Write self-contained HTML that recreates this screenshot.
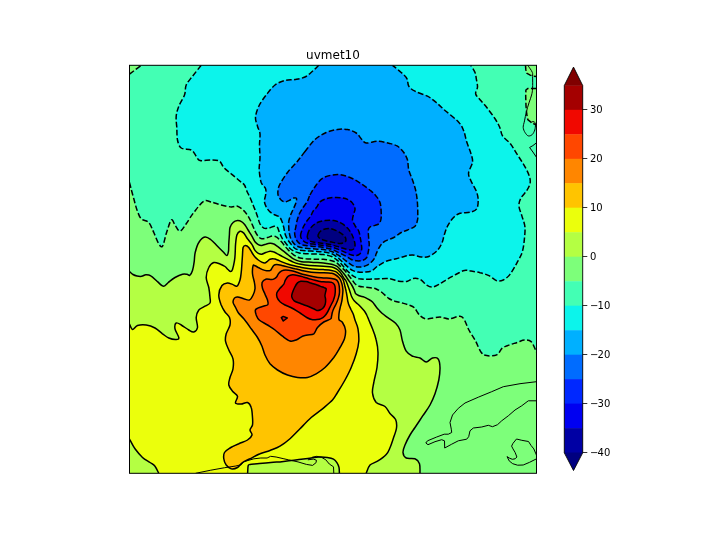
<!DOCTYPE html>
<html lang="en"><head><meta charset="utf-8"><title>uvmet10</title>
<style>html,body{margin:0;padding:0;background:#fff;}svg{display:block}text{font-family:"DejaVu Sans","Liberation Sans",sans-serif;fill:#000}</style></head><body>
<svg width="720" height="540" viewBox="0 0 720 540">
<rect width="720" height="540" fill="#fff"/>
<defs><clipPath id="ax"><rect x="129.5" y="65.3" width="407" height="408"/></clipPath></defs>
<g clip-path="url(#ax)">
<rect x="129.5" y="65.3" width="407" height="408" fill="#7dff7a"/>
<path d="M129.5 182.5C129.8 183.5 130.3 185.8 131 188.5C131.7 191.2 132.8 195.2 133.8 198.8C134.8 202.3 135.8 206.7 137 210C138.2 213.3 139.3 216.7 141.2 218.8C143.2 220.8 146.7 220.2 148.8 222.5C150.8 224.8 152.1 229 153.8 232.5C155.4 236 157.3 241.5 158.8 243.8C160.2 246 161.2 247.9 162.5 246.2C163.8 244.6 164.8 238.1 166.2 233.8C167.7 229.4 169.8 221.5 171.2 220C172.7 218.5 173.5 223.1 175 225C176.5 226.9 178.1 231.5 180 231.2C181.9 231 184 226.9 186.2 223.8C188.5 220.6 190.8 216.2 193.8 212.5C196.7 208.8 200.8 203 203.8 201.2C206.7 199.5 208.3 201.4 211.2 202C214.2 202.6 217.9 204.2 221.2 205C224.6 205.8 228.5 206.7 231.2 206.9C234 207.1 235.4 205.6 237.5 206.2C239.6 206.9 242 208.9 243.8 210.6C245.5 212.3 246.7 214.1 248.1 216.2C249.5 218.4 250.8 221.2 251.9 223.8C253.1 226.2 254 229.2 255 231.2C256 233.3 257 235 258.1 236.2C259.2 237.5 260.3 238.5 261.9 238.8C263.5 239 265.7 238 267.5 237.5C269.3 237 271 236.1 272.5 236C274 235.9 275.2 236.4 276.2 236.9C277.3 237.4 277.8 238.1 278.8 239C279.7 239.9 280.7 241 281.7 242.1C282.7 243.2 283.6 244.6 284.6 245.8C285.6 247.1 286.7 248.3 287.9 249.6C289.1 250.8 290.4 252.2 291.7 253.3C293 254.4 294.4 255.5 295.8 256.2C297.2 257 298.3 257.5 300 257.9C301.7 258.3 303.3 258.5 305.8 258.8C308.3 259 312.1 259.1 315 259.2C317.9 259.3 320.5 259 323.3 259.3C326.1 259.6 329.5 260.2 331.7 260.8C333.9 261.4 335.2 261.9 336.7 262.9C338.2 263.9 339.4 265.4 340.8 266.7C342.2 268 343.8 269.4 345 270.8C346.2 272.2 347.2 273.6 348.3 275C349.4 276.4 350.6 277.7 351.7 279.2C352.8 280.7 353.8 282.6 355 283.8C356.2 284.9 357.5 285.7 359.2 286.2C360.9 286.8 362.9 286.8 365 287.1C367.1 287.4 369.8 287.6 371.7 287.9C373.6 288.2 374.5 288.2 376.2 289C378 289.8 379.9 290.9 382 292.5C384.1 294.1 386.7 297.1 388.9 298.5C391.1 299.9 392.8 300.4 395 301.2C397.2 301.9 399.9 302.4 402.2 303C404.5 303.6 406.9 304.2 408.9 305C410.9 305.8 412.5 306 414.4 307.8C416.2 309.6 417.9 313.8 420 315.6C422.1 317.5 423.4 318.6 426.7 318.9C430 319.1 436.3 317.1 440 317.1C443.7 317.1 445.6 319 448.9 318.9C452.2 318.8 457.4 316 460 316.2C462.6 316.4 462.9 317.7 464.4 320C465.9 322.3 467 326.5 468.9 330C470.8 333.5 473.6 337.4 475.6 341.1C477.6 344.8 479.2 349.8 481.1 352.2C483 354.6 484.1 355.2 486.7 355.6C489.3 356.1 494.1 356.1 496.7 354.9C499.3 353.7 500.2 349.8 502.2 348.2C504.2 346.6 506.3 346.1 508.9 345.1C511.5 344.1 515.2 343.1 517.8 342.2C520.4 341.3 522.2 340.1 524.4 340C526.6 339.9 529.2 339.9 531.1 341.6C533 343.3 534.7 348.3 535.6 350C536.5 351.7 536.4 351.7 536.5 352L536.5 65.3L129.5 65.3Z" fill="#43ffb4" stroke="#43ffb4" stroke-width="0.4"/>
<path d="M129.5 74.2C130.4 73.5 133 71.5 135 70C137 68.5 140.3 66.1 141.4 65.3L129.5 65.3Z" fill="#7dff7a" stroke="#7dff7a" stroke-width="0.4"/>
<path d="M525.5 65.3 L525.8 69.4 L526.6 73.2 L530.2 75.1 L532.7 76.2 L536.5 76.4L536.5 65.3Z" fill="#7dff7a" stroke="#7dff7a" stroke-width="0.4"/>
<path d="M536.5 88.4 L528 88.4 L525.9 90 L525.7 96 L526 105.8 L526.7 114 L527.8 119.7 L532 123 L536.5 125Z" fill="#7dff7a" stroke="#7dff7a" stroke-width="0.4"/>
<path d="M201.2 65.3C199.8 67.1 195 73 192.5 76.2C190 79.5 187.6 81.9 186.2 85C184.9 88.1 185.8 91.5 184.5 95C183.2 98.5 180.1 102.7 178.8 106.2C177.4 109.8 176.6 112.7 176.2 116.2C175.9 119.8 176.5 123.5 176.8 127.5C177 131.5 176.8 136.6 177.5 140C178.2 143.4 179 146.3 181.2 148C183.5 149.7 188.8 148.6 191.2 150C193.8 151.4 194.8 154.5 196.2 156.2C197.7 158 197.5 159.9 200 160.5C202.5 161.1 208 159.9 211.2 160C214.5 160.1 217.4 160 219.5 161.2C221.6 162.5 221.8 165.4 223.8 167.5C225.7 169.6 228.5 171.5 231.2 173.8C234 176 237.8 179.4 240 181.2C242.2 183.1 243.2 183.3 244.4 185C245.6 186.7 246 189.2 246.9 191.2C247.8 193.3 249 195.2 250 197.5C251 199.8 252.2 202.7 253.1 205C254 207.3 254.8 209.2 255.6 211.2C256.4 213.3 257 215.4 257.8 217.5C258.5 219.6 259 222 260 223.8C261 225.5 262.3 227.4 263.8 228.1C265.2 228.8 267 228.4 268.8 228.1C270.5 227.8 272.9 226.3 274.4 226.2C275.9 226.2 276.7 226.5 277.5 227.5C278.3 228.5 278.6 230.6 279.4 232.5C280.2 234.4 281.4 236.9 282.5 238.8C283.6 240.6 285 242.1 286.2 243.8C287.5 245.4 288.7 247.2 290 248.5C291.3 249.8 292.7 250.6 294.2 251.3C295.7 252 297.3 252.5 299.2 252.9C301.1 253.3 303.2 253.5 305.8 253.7C308.4 253.9 312.1 253.9 315 254C317.9 254.1 320.5 254.1 323.3 254.5C326.1 254.9 329.5 255.6 331.7 256.5C333.9 257.4 335 258.5 336.7 259.8C338.4 261.1 340.2 262.9 341.7 264.5C343.2 266.1 344.4 267.7 345.8 269.2C347.2 270.7 348.6 272.1 350 273.3C351.4 274.6 352.7 275.8 354.2 276.7C355.7 277.6 357.4 278.3 359.2 278.8C361 279.2 362.4 279.2 365 279.2C367.6 279.2 372.5 279.1 375 279C377.5 278.9 377.5 278.8 380 278.8C382.5 278.7 386.9 278.3 390 278.8C393.1 279.2 395.8 280.8 398.8 281.2C401.7 281.7 405.1 281.7 407.5 281.2C409.9 280.8 411.2 278.7 413.3 278.4C415.4 278.1 417.8 278.2 420 279.3C422.2 280.4 424.7 283.8 426.7 285.1C428.7 286.4 430.2 287.2 432.2 287.1C434.2 287 436.3 285.8 438.9 284.4C441.5 283 444.8 280.6 447.8 278.9C450.8 277.2 453.9 275.4 456.7 274C459.5 272.6 462 270.9 464.4 270.4C466.8 269.9 468.5 270.7 471.1 271.1C473.7 271.5 477 271.9 480 272.7C483 273.4 486.1 274.3 488.9 275.6C491.7 276.9 494.3 280 496.7 280.7C499.1 281.4 501.1 281.1 503.3 280C505.5 278.9 507.8 277.2 510 274.4C512.2 271.6 514.7 267 516.7 263.3C518.7 259.6 520.9 256.3 522.2 252.2C523.5 248.1 524 243.2 524.4 238.9C524.8 234.7 525.3 230.6 524.9 226.7C524.5 222.8 522.8 219.1 521.8 215.6C520.8 212.1 519 208.6 518.9 205.6C518.8 202.6 519.8 200.3 521.1 197.8C522.4 195.3 525.4 192.9 526.9 190.4C528.4 187.9 529.9 185.2 530.2 182.6C530.5 180 529.9 177.8 528.9 174.9C527.9 172 526 168.5 524 165.1C522 161.7 519.5 158 517.2 154.4C514.9 150.8 512.8 146.8 510.4 143.8C508 140.7 504.4 138.8 502.6 136C500.8 133.2 501 130.1 499.7 127.2C498.4 124.3 497 121.7 494.9 118.5C492.8 115.3 489.4 110.9 487 107.8C484.6 104.7 482.2 102.3 480.3 100C478.4 97.7 476.2 96.2 475.7 94C475.2 91.8 477.4 89.4 477.5 87C477.6 84.6 476.8 81.8 476.4 79.4C476 77 475.9 74.8 475 72.5C474.1 70.2 471.5 66.5 470.8 65.3Z" fill="#0cf4eb" stroke="#0cf4eb" stroke-width="0.4"/>
<path d="M318.8 65.3C317.7 66.3 314.8 69.3 312.5 71.2C310.2 73.2 307.9 75.6 305 77C302.1 78.4 298.3 78.9 295 79.5C291.7 80.1 288.3 79.6 285 80.5C281.7 81.4 278.1 82.6 275 85C271.9 87.4 269 91.5 266.2 95C263.5 98.5 260.5 102.5 258.8 106.2C257 110 255.7 114.2 255.5 117.5C255.3 120.8 256.8 123.5 257.5 126.2C258.2 129 259.7 130.6 260 133.8C260.3 136.9 259.5 141 259.5 145C259.5 149 260 153.3 260 157.5C260 161.7 259 165.8 259.2 170C259.5 174.2 260.2 179.4 261.2 182.5C262.3 185.6 264.9 186.7 265.6 188.8C266.3 190.8 265.8 192.9 265.6 195C265.4 197.1 264.3 199.3 264.4 201.2C264.5 203.2 265.3 205.1 266.2 206.9C267.2 208.7 268.5 210.6 270 211.9C271.5 213.2 273.4 214.2 275 215C276.6 215.8 278.2 215.9 279.4 216.9C280.5 217.9 281.2 219.5 281.9 221.2C282.6 223 283.2 225.4 283.8 227.5C284.3 229.6 284.4 231.8 285 233.8C285.6 235.7 286.5 237.6 287.5 239.4C288.5 241.2 290 242.9 291.2 244.4C292.5 245.9 293.7 247.6 295 248.5C296.3 249.4 297.4 249.6 299.2 250C301 250.4 303.2 250.6 305.8 250.8C308.4 251 312.1 251.1 315 251.3C317.9 251.5 320.5 251.6 323.3 252C326.1 252.4 329.3 252.9 331.7 253.8C334.1 254.7 335.7 256.1 337.5 257.5C339.3 258.9 340.8 260.5 342.5 262C344.2 263.5 345.8 265.3 347.5 266.7C349.2 268.1 350.7 269.5 352.5 270.4C354.3 271.3 356.2 271.8 358.3 272.1C360.4 272.4 362.8 272.3 365 272.1C367.2 271.9 369.6 271.8 371.7 270.8C373.8 269.8 375.1 267.8 377.5 266.2C379.9 264.7 383.1 262.5 386.2 261.2C389.4 260 393.1 259.6 396.2 258.8C399.4 257.9 402.3 256.9 405 256.2C407.7 255.6 409.8 254.9 412.5 255C415.2 255.1 418.5 256.8 421.2 257C424 257.2 426.2 257.5 428.8 256.5C431.3 255.5 434.5 253.3 436.7 251.1C438.9 248.9 440.5 246.1 441.8 243.3C443.1 240.5 443.4 237.4 444.4 234.4C445.4 231.4 446.3 228.4 447.8 225.6C449.3 222.8 451.3 219.9 453.3 217.8C455.3 215.8 457.2 214.2 460 213.3C462.8 212.4 467.2 212.9 470 212.2C472.8 211.5 475.3 210.9 476.7 208.9C478.1 206.9 478.2 202.9 478.2 200C478.1 197.1 477.6 194.6 476.4 191.4C475.2 188.2 472.2 183.8 470.9 180.7C469.6 177.6 468.3 176 468.6 172.9C468.9 169.8 472.1 165.4 472.5 162.2C472.9 159 471.9 156.9 470.9 153.5C469.9 150.1 467.9 145.5 466.7 141.8C465.5 138.1 465.1 134.3 463.8 131.1C462.4 127.9 462 125.8 458.9 122.4C455.8 119 449.1 114 445.3 110.7C441.5 107.4 439.2 104.9 436.2 102.5C433.3 100.1 431 98.1 427.5 96.2C424 94.4 418.1 92.9 415 91.2C411.9 89.6 410.1 88.3 408.8 86.2C407.4 84.2 408.2 81 407 78.8C405.8 76.5 403.7 74.7 401.2 72.5C398.8 70.3 394 66.5 392.5 65.3Z" fill="#00b0ff" stroke="#00b0ff" stroke-width="0.4"/>
<path d="M305 151.5C302.1 155.1 300.4 157.8 297.5 161.2C294.6 164.8 290.4 168.7 287.5 172.5C284.6 176.3 281.6 181.1 280 184C278.4 186.9 278.4 188.2 278.1 190C277.8 191.8 277.7 193.4 278.1 195C278.5 196.6 279.6 198.2 280.6 199.4C281.7 200.6 283 201.7 284.4 201.9C285.8 202.1 287.2 201.2 288.8 200.6C290.3 200 292.5 198.4 293.8 198.1C295 197.8 296.2 197.6 296.5 198.5C296.8 199.4 296.2 201.9 295.6 203.8C295 205.6 293.9 207.5 293.1 209.4C292.3 211.3 291.3 213 290.6 215C289.9 217 289.1 219.2 288.8 221.2C288.4 223.3 288.7 225.6 288.8 227.5C288.8 229.4 288.9 230.8 289.2 232.5C289.5 234.2 289.8 236 290.4 237.5C290.9 239 291.6 240.4 292.5 241.7C293.4 243 294.6 244.5 295.8 245.4C297.1 246.3 298.3 246.8 300 247.3C301.7 247.8 303.3 248 305.8 248.3C308.3 248.6 312.1 248.8 315 249C317.9 249.2 320.5 249.2 323.3 249.6C326.1 250 329.2 250.6 331.7 251.5C334.2 252.4 336.2 253.9 338.3 255.2C340.4 256.5 342.4 258.1 344.2 259.5C346 260.9 347.5 262.2 349.2 263.3C350.9 264.4 352.4 265.6 354.2 266.2C356 266.9 357.9 267.2 360 267.1C362.1 267 364.8 266.3 366.7 265.4C368.6 264.5 370.3 263 371.7 261.7C373.1 260.4 374.2 258.8 375 257.5C375.8 256.2 375.4 255.6 376.2 253.8C377.1 251.9 378.5 248.3 380 246.2C381.5 244.2 382.7 242.7 385 241.2C387.3 239.8 391 239 393.8 237.5C396.5 236 399 233.8 401.2 232.5C403.5 231.2 405.2 231 407.5 230C409.8 229 413.3 227.9 415 226.2C416.7 224.6 417 222 417.5 220C418 218 417.8 217.6 417.8 214.4C417.8 211.2 417.7 205.2 417.3 201.1C416.9 197 416.4 193.5 415.6 190C414.8 186.5 413.6 183.3 412.5 180C411.4 176.7 409.6 173.3 408.8 170C407.9 166.7 408.3 162.9 407.5 160C406.7 157.1 405.4 154.8 403.8 152.5C402.1 150.2 400 147.8 397.5 146.2C395 144.7 392.1 144.1 388.8 143.2C385.4 142.4 381.2 141.3 377.5 141.2C373.8 141.2 369 143.4 366.2 143C363.5 142.6 362.9 140.4 361.2 138.8C359.6 137.1 358.5 134.5 356.2 133C354 131.5 350.6 130.1 347.5 129.5C344.4 128.9 341 129 337.5 129.5C334 130 330 130.8 326.2 132.5C322.5 134.2 318.5 136.3 315 139.5C311.5 142.7 307.9 147.9 305 151.5Z" fill="#006cff" stroke="#006cff" stroke-width="0.4"/>
<path d="M310 195C311.5 192.3 314 187.9 316.2 185C318.5 182.1 320.2 179.2 323.8 177.5C327.3 175.8 333.1 174.5 337.5 174.5C341.9 174.5 346 176 350 177.5C354 179 357.7 181.5 361.2 183.8C364.8 186 368.8 189.2 371.2 191.2C373.7 193.3 374.5 194.1 376 196C377.5 197.9 379.1 199.8 380 202.5C380.9 205.2 381.1 209.8 381.2 212.5C381.4 215.2 381.3 217.2 381 219C380.7 220.8 380.3 222.2 379.3 223.3C378.3 224.4 376.5 224.8 375 225.4C373.5 226 371.6 226 370.5 226.7C369.4 227.4 368.7 227.9 368.4 229.5C368.1 231.1 368.4 234.1 368.5 236C368.6 237.9 368.8 239.5 368.9 241C369 242.5 369.3 243.2 369.2 245C369.1 246.8 368.7 249.6 368.3 251.7C367.9 253.8 367.7 256.1 366.7 257.5C365.7 258.9 364.2 259.8 362.5 260.4C360.8 260.9 358.6 261 356.7 260.8C354.8 260.6 352.6 260 350.8 259.2C349 258.4 347.7 257.3 345.8 256.2C343.9 255.1 341.6 254 339.2 252.8C336.8 251.7 334.3 250.2 331.7 249.3C329.1 248.4 326.1 247.9 323.3 247.4C320.5 246.9 317.9 246.8 315 246.5C312.1 246.2 308.2 246 305.8 245.6C303.4 245.2 302.2 244.9 300.8 244.2C299.4 243.5 298.4 242.6 297.5 241.5C296.6 240.4 295.9 239 295.4 237.5C294.9 236 294.6 234.1 294.6 232.5C294.6 230.9 295.2 230 295.6 228.1C296 226.2 296.3 223.6 296.9 221.2C297.5 218.9 298.4 216 299.4 213.8C300.4 211.5 301.8 209.6 303.1 207.5C304.5 205.4 306.4 203.3 307.5 201.2C308.6 199.2 308.5 197.7 310 195Z" fill="#0028ff" stroke="#0028ff" stroke-width="0.4"/>
<path d="M300.6 236.2C300.4 234.2 301.6 231.1 302.5 228.8C303.4 226.4 304.9 224 306.2 221.9C307.6 219.8 309.5 218 310.6 216.2C311.7 214.5 312.1 212.8 313.1 211.2C314.2 209.7 315.8 208.5 316.9 206.9C318 205.3 318.4 203.3 320 201.9C321.6 200.5 324 199.5 326.2 198.8C328.5 198 331.2 197.7 333.8 197.5C336.2 197.3 339 197.4 341.2 197.8C343.5 198.1 345.6 198.5 347.5 199.4C349.4 200.3 351.2 201.5 352.5 203.1C353.8 204.7 354.8 207 355 208.8C355.2 210.5 354.2 211.9 353.8 213.8C353.3 215.6 352.3 218 352.5 220C352.7 222 354 223.7 355 225.6C356 227.5 357.9 229.1 358.8 231.2C359.6 233.4 360 236.3 360.4 238.3C360.8 240.3 361 241.5 361.2 243.3C361.5 245.1 361.9 247.5 361.7 249.2C361.5 250.9 360.8 252.7 360 253.8C359.2 254.8 358.1 255.2 356.7 255.4C355.3 255.6 353.4 255.4 351.7 255C350 254.6 348.6 253.8 346.7 253C344.8 252.2 342.5 251 340 250C337.5 249 334.5 247.8 331.7 247C328.9 246.2 326.1 245.8 323.3 245.4C320.5 245 317.6 244.7 315 244.3C312.4 244 309.9 243.9 308 243.3C306.1 242.8 304.7 242.2 303.5 241C302.3 239.8 300.8 238.3 300.6 236.2Z" fill="#0000f1" stroke="#0000f1" stroke-width="0.4"/>
<path d="M307.5 235C307.9 233.5 308.5 230.7 310 228.8C311.5 226.8 313.8 224.5 316.2 223.1C318.8 221.7 322.1 221 325 220.6C327.9 220.2 331 220.2 333.8 220.6C336.5 221 339 221.8 341.2 223.1C343.5 224.3 345.8 226.3 347.5 228.1C349.2 229.9 350.7 232.2 351.7 234C352.7 235.8 353.2 237.5 353.8 239.2C354.3 240.9 354.9 242.7 355 244.2C355.1 245.7 354.8 247.3 354.2 248.3C353.6 249.3 352.9 249.8 351.7 250C350.4 250.2 348.6 249.8 346.7 249.4C344.8 249 342.5 248.1 340 247.3C337.5 246.6 334.5 245.6 331.7 244.9C328.9 244.2 326.1 243.8 323.3 243.4C320.5 243 317.2 242.7 315 242.3C312.8 241.9 311.2 241.7 310 241C308.8 240.3 307.9 239 307.5 238C307.1 237 307.1 236.5 307.5 235Z" fill="#0000a4" stroke="#0000a4" stroke-width="0.4"/>
<path d="M318.1 235C318.5 233.8 319.5 231.7 321.2 230.6C323 229.5 326.2 228.5 328.8 228.5C331.2 228.5 334 229.6 336.2 230.6C338.5 231.6 340.9 233.1 342.5 234.4C344.1 235.7 345.4 237.2 345.8 238.5C346.2 239.8 346 241.2 345 242C344 242.8 342.2 243.5 340 243.5C337.8 243.5 334.5 242.7 331.7 242.1C328.9 241.5 325.5 240.8 323.3 240C321.1 239.2 319.6 238.3 318.8 237.5C317.9 236.7 317.7 236.2 318.1 235Z" fill="#000080" stroke="#000080" stroke-width="0.4"/>
<path d="M129.5 271.5C130.1 272 131.8 273.8 133 274.5C134.2 275.2 135.6 275.7 137 276C138.4 276.3 140.2 276.5 141.7 276.3C143.2 276.1 144.3 274.8 145.8 274.7C147.3 274.6 148.9 274.6 150.8 275.8C152.8 277 155.4 279.9 157.5 281.7C159.6 283.4 161.5 286.2 163.3 286.3C165.1 286.4 166.4 284 168.3 282.5C170.2 281 172.6 278.9 175 277.5C177.4 276.1 180.5 274.7 182.5 274.2C184.5 273.7 185.8 274.1 187 274.3C188.2 274.5 188.8 275.9 189.7 275.3C190.6 274.7 191.8 272.8 192.5 270.5C193.2 268.2 193.8 264.7 194.2 261.7C194.6 258.7 194.4 255.7 195.2 252.5C196 249.3 197.1 245.1 198.8 242.5C200.4 239.9 202.9 237.4 205 237C207.1 236.6 209.2 238.5 211.2 240C213.3 241.5 215.4 244.2 217.5 246.2C219.6 248.3 222.2 250.9 223.8 252.5C225.3 254.1 226.1 255.8 226.9 255.6C227.7 255.4 228.2 253.2 228.5 251.2C228.8 249.3 228.6 246.5 228.8 243.8C228.9 241 229.2 237.7 229.4 235C229.6 232.3 229.4 229.6 230 227.5C230.6 225.4 231.8 223.7 233.1 222.5C234.3 221.3 236 220.7 237.5 220.6C239 220.5 240.7 221.2 241.9 221.9C243.2 222.6 244 223.7 245 225C246 226.3 246.9 228.1 248.1 230C249.2 231.9 250.8 234.3 251.9 236.2C253.1 238.2 253.9 240.3 255 241.7C256.1 243.1 257.2 244 258.3 244.6C259.4 245.2 260.4 245.5 261.7 245.4C262.9 245.3 264.4 244.5 265.8 244.2C267.2 243.8 268.8 243.4 270 243.3C271.2 243.2 272.2 243.3 273.3 243.8C274.4 244.2 275.6 245 276.7 245.8C277.8 246.6 278.8 247.3 280 248.3C281.2 249.3 282.8 250.6 284.2 251.7C285.6 252.8 286.9 253.9 288.3 255C289.7 256.1 291.1 257.4 292.5 258.3C293.9 259.2 295.2 259.8 296.7 260.4C298.2 261 299.8 261.4 301.7 261.7C303.6 262 306.1 262 308.3 262.1C310.5 262.2 312.5 262.4 315 262.5C317.5 262.6 320.5 262.6 323.3 262.9C326.1 263.2 329.5 263.6 331.7 264.2C333.9 264.8 335.3 265.4 336.7 266.2C338.1 267.1 338.9 268.1 340 269.2C341.1 270.3 342.3 271.8 343.3 273C344.3 274.2 345.2 275.3 346 276.5C346.8 277.7 347.4 278.6 348.3 280C349.2 281.4 350.7 283.3 351.7 285C352.7 286.7 353.5 288.5 354.2 290C354.9 291.5 355 292.8 355.8 293.8C356.6 294.7 357.8 295.2 359.2 295.8C360.6 296.4 362.7 296.5 364.2 297.1C365.7 297.7 366.9 298.4 368.3 299.2C369.7 300 371.1 300.5 372.5 302C373.9 303.5 375.4 306.1 377 308C378.6 309.9 380.2 311.6 382 313.2C383.8 314.8 385.5 315.9 387.8 317.6C390.1 319.3 393.6 321.2 395.6 323.3C397.6 325.4 398.9 327 400 330C401.1 333 401.5 337.7 402.5 341.2C403.5 344.8 404.6 348.8 406.2 351.2C407.9 353.8 410.2 355.1 412.5 356.2C414.8 357.4 417.7 357 420 358C422.3 359 424.2 362 426.2 362C428.3 362 430.5 358.5 432.5 358C434.5 357.5 436.8 357.2 438 358.8C439.2 360.3 439.9 364 440 367.5C440.1 371 439.6 375.6 438.8 380C437.9 384.4 436.5 389.6 435 393.8C433.5 397.9 432.1 401.2 430 405C427.9 408.8 425 412.5 422.5 416.2C420 420 417.1 424.4 415 427.5C412.9 430.6 411.7 432.1 410 435C408.3 437.9 406.2 442.1 405 445C403.8 447.9 402.8 450.3 403 452.5C403.2 454.7 404.2 457 406.2 458C408.2 459 412.8 457.8 415 458.8C417.2 459.7 418.7 461.3 419.5 463.8C420.3 466.2 419.9 471.7 420 473.3L420 473.3L129.5 473.3Z" fill="#b4ff43" stroke="#b4ff43" stroke-width="0.4"/>
<path d="M129.5 324C130 324.9 131.2 329.2 132.5 329.5C133.8 329.8 135.2 326.2 137.5 325.5C139.8 324.8 143.3 324.6 146.2 325C149.2 325.4 152.3 326.5 155 328C157.7 329.5 160.2 332.1 162.5 333.8C164.8 335.4 166.5 337 168.8 338C171 339 174.6 339.6 176.2 339.5C177.9 339.4 179 339.3 178.8 337.5C178.5 335.7 175.4 331.2 175 328.8C174.6 326.3 175.2 323.6 176.2 323C177.3 322.4 179.2 323.8 181.2 325C183.3 326.2 186.7 328.8 188.8 330C190.8 331.2 192.3 332.4 193.8 332C195.2 331.6 197.1 329.9 197.5 327.5C197.9 325.1 196 320.4 196.2 317.5C196.5 314.6 197.3 311.9 198.8 310C200.2 308.1 203.1 307.4 205 306.2C206.9 305.1 209.2 304.5 210 303C210.8 301.5 210.2 300.1 210 297.5C209.8 294.9 209.4 290.8 208.8 287.5C208.1 284.2 206.2 280.8 206.2 277.5C206.2 274.2 207.5 270 208.8 267.5C210 265 211.9 263.1 213.8 262.5C215.6 261.9 218.1 263.3 220 264C221.9 264.7 223.7 265.6 225 266.5C226.3 267.4 227.1 268.7 228 269.5C228.9 270.3 229.8 271.5 230.6 271.5C231.3 271.5 231.9 271.1 232.5 269.4C233.1 267.7 233.9 264.1 234.4 261.2C234.9 258.4 235.1 255.4 235.2 252.5C235.4 249.6 235.3 246.7 235.6 243.8C235.9 240.8 236.2 237.1 236.9 235C237.6 232.9 238.9 231.6 240 231.2C241.1 230.9 242.5 231.8 243.8 233.1C245 234.3 246.1 236.9 247.5 238.8C248.9 240.6 250.7 242.5 251.9 244.4C253.2 246.3 253.9 248.9 255 250.4C256.1 251.9 257.2 252.7 258.3 253.3C259.4 253.9 260.4 254.3 261.7 254.2C262.9 254.1 264.4 253 265.8 252.5C267.2 252 268.8 251.4 270 251.2C271.2 251.1 272.1 251.3 273.3 251.7C274.6 252.1 276 252.9 277.5 253.8C279 254.6 280.7 255.7 282.5 256.7C284.3 257.7 286.5 258.7 288.3 259.6C290.1 260.5 291.6 261.4 293.3 262.1C295 262.8 296.4 263.3 298.3 263.8C300.2 264.2 302.2 264.7 305 265C307.8 265.3 311.9 265.6 315 265.8C318.1 266 320.5 266 323.3 266.2C326.1 266.5 329.5 266.6 331.7 267.1C333.9 267.6 335.3 268.4 336.7 269.2C338.1 270 339 271 340 272.1C341 273.2 341.8 274.7 342.5 275.8C343.2 276.9 343.9 278.2 344.5 279C345.1 279.8 345.2 279.4 345.8 280.5C346.4 281.6 347.2 283.9 347.9 285.8C348.6 287.7 349.4 289.9 350 291.7C350.6 293.5 351 295.2 351.7 296.7C352.4 298.2 353.2 299.6 354.2 300.8C355.2 302 356.4 302.7 357.5 303.8C358.6 304.8 359.7 305.9 360.8 307.1C361.9 308.3 363.2 309.5 364.2 310.8C365.2 312.1 365.9 313.5 366.7 315C367.5 316.5 367.8 317.7 368.8 320C369.7 322.3 371.2 325.4 372.5 328.8C373.8 332.1 375.3 336 376.2 340C377.2 344 377.9 347.9 378 352.5C378.1 357.1 377.7 362.5 377 367.5C376.3 372.5 374.5 378.2 373.8 382.5C373 386.8 372.1 389.7 372.5 393C372.9 396.3 374.2 400.2 376.2 402.5C378.3 404.8 382.7 404.7 385 406.5C387.3 408.3 388.2 411.3 390 413.5C391.8 415.7 394.5 417.1 395.6 419.5C396.7 421.9 396.9 424.8 396.5 428C396.1 431.2 394.4 435.2 393.3 438.5C392.2 441.8 391.2 445.1 390 447.8C388.8 450.5 388.3 452.3 386.2 454.5C384.2 456.7 380.2 459.5 377.5 461.2C374.8 463 371.9 463 370 465C368.1 467 366.9 471.9 366.2 473.3L129.5 473.3Z" fill="#ebff0c" stroke="#ebff0c" stroke-width="0.4"/>
<path d="M129.5 439C130.4 440.6 132.8 445.7 135 448.8C137.2 451.8 140 455.2 142.5 457.5C145 459.8 147.9 461 150 462.5C152.1 464 153.5 464.4 155 466.2C156.5 468.1 158.1 472.1 158.8 473.3L129.5 473.3Z" fill="#b4ff43" stroke="#b4ff43" stroke-width="0.4"/>
<path d="M247.6 473.3C247.7 472.4 247.8 469.3 247.9 468C248 466.7 248 465.9 248.3 465.3C248.7 464.7 248.2 464.7 250 464.4C251.8 464.1 255.5 464 259.4 463.6C263.3 463.2 269.9 462.6 273.3 462.3C276.7 462 276.6 462.2 280 461.9C283.4 461.5 289.3 460.8 293.9 460.2C298.5 459.6 303.6 458.9 307.8 458.4C312 457.9 315.7 457.2 318.9 457C322.1 456.8 324.8 457 327.2 457.4C329.6 457.8 331.9 458.2 333.5 459.1C335.1 460 336 461.2 336.9 462.6C337.8 464 338.6 465.6 339 467.4C339.4 469.2 339.3 472.3 339.4 473.3Z" fill="#b4ff43" stroke="#b4ff43" stroke-width="0.4"/>
<path d="M245.5 245.5C244.6 245.5 243.6 245.9 243.1 247.5C242.6 249.1 242.7 252.3 242.5 255C242.3 257.7 242.1 260.8 241.9 263.8C241.7 266.7 241.6 269.8 241.2 272.5C240.9 275.2 240.7 277.7 240 280C239.3 282.3 238.2 285.5 236.9 286.2C235.7 287 234.1 284.9 232.5 284.4C230.9 283.9 229.2 282.8 227.5 283C225.8 283.2 223.5 283.5 222 285.5C220.5 287.5 218.9 291.8 218.8 295C218.6 298.2 220.2 302.2 221.2 305C222.3 307.8 223.6 309.9 225 312C226.4 314.1 228.7 315.3 229.5 317.5C230.3 319.7 230.5 322.3 230 325C229.5 327.7 227 331 226.2 333.8C225.5 336.5 225.1 338.5 225.5 341.2C225.9 344 227.5 347.1 228.8 350C230 352.9 232.3 355.6 233 358.8C233.7 361.9 233.5 365.6 233 368.8C232.5 371.9 230.7 374.8 230 377.5C229.3 380.2 228.3 382.7 228.8 385C229.2 387.3 231 389.4 232.5 391.2C234 393.1 237 394.3 237.5 396.2C238 398.2 234.9 401.7 235.5 403C236.1 404.3 239.2 404.1 241.2 404C243.2 403.9 245.8 401.9 247.5 402.5C249.2 403.1 250.4 405 251.2 407.5C252.1 410 252.3 414.6 252.5 417.5C252.7 420.4 252.9 422.9 252.5 425C252.1 427.1 250.1 428.3 250 430C249.9 431.7 252.4 433.3 252 435C251.6 436.7 249.7 438.5 247.5 440C245.3 441.5 241.7 442.4 238.8 443.8C235.8 445.1 232.4 446.5 230 448C227.6 449.5 225.5 450.7 224.5 452.5C223.5 454.3 223.5 456.7 223.8 458.8C224 460.8 225 463.3 226.2 465C227.5 466.7 229.4 468.3 231.2 468.8C233.1 469.2 235.6 468.5 237.5 467.5C239.4 466.5 240.4 464 242.5 462.5C244.6 461 247.1 460.2 250 458.8C252.9 457.3 256.7 455.1 260 453.8C263.3 452.4 266.7 451.8 270 450.5C273.3 449.2 276.7 448.2 280 446.2C283.3 444.3 286.7 441.7 290 438.8C293.3 435.8 296.5 432.3 300 428.8C303.5 425.2 307.5 420.8 311.2 417.5C315 414.2 319 411.7 322.5 408.8C326 405.8 330 402.7 332.5 400C335 397.3 335.4 395.8 337.5 392.5C339.6 389.2 342.7 384.2 345 380C347.3 375.8 349.4 371.9 351.2 367.5C353.1 363.1 355 358.1 356.2 353.8C357.5 349.4 358.5 345.4 358.8 341.2C359 337.1 358.6 332.3 358 328.8C357.4 325.2 355.8 322.4 355 320C354.2 317.6 353.9 315.9 353.3 314.2C352.7 312.5 351.9 311.4 351.2 310C350.6 308.6 349.8 307.2 349.2 305.8C348.6 304.4 348.2 303.2 347.9 301.7C347.5 300.2 347.4 298.4 347.1 296.7C346.8 295 346.6 293.5 346.2 291.7C345.9 289.9 345.3 287.8 344.8 285.8C344.3 283.9 343.9 281.5 343.3 280C342.8 278.5 342.2 277.9 341.5 277C340.8 276.1 340.1 275.5 339.2 274.6C338.2 273.7 337.1 272.4 335.8 271.7C334.6 271 333.8 270.8 331.7 270.4C329.6 270 326.1 269.8 323.3 269.6C320.5 269.4 317.8 269.4 315 269.2C312.2 269 309.2 268.6 306.7 268.3C304.2 268 302.1 267.5 300 267.1C297.9 266.7 296.1 266.3 294.2 265.8C292.2 265.3 290.2 264.8 288.3 264.2C286.4 263.6 284.3 262.8 282.5 262.1C280.7 261.4 279 260.6 277.5 260C276 259.4 274.6 258.9 273.3 258.8C272.1 258.6 271 258.8 270 259.2C269 259.6 268.3 260.6 267.5 261.2C266.7 261.9 266 262.8 265 262.9C264 263 262.8 262.6 261.7 262.1C260.6 261.6 259.4 260.8 258.3 260C257.2 259.2 256.1 258.4 255 257.1C253.9 255.9 252.9 254.1 251.9 252.5C250.9 250.9 249.8 248.7 248.8 247.5C247.7 246.3 246.4 245.5 245.5 245.5Z" fill="#ffc400" stroke="#ffc400" stroke-width="0.4"/>
<path d="M253.1 265.6C252.7 266.9 252.3 270.9 252.5 273.8C252.7 276.6 254 280 254.4 282.5C254.8 285 255.2 286.7 255 288.8C254.8 290.8 254 293.1 253.1 295C252.2 296.9 251 299.4 249.4 300C247.8 300.6 245.7 299.3 243.8 298.8C241.8 298.2 239.1 297 237.5 296.9C235.9 296.8 235.1 297.2 234.4 298.1C233.7 299 232.9 300.9 233.1 302.5C233.3 304.1 234.7 305.8 235.6 307.5C236.5 309.2 237.1 311.1 238.5 313C239.9 314.9 241.6 316.1 243.8 318.8C245.9 321.4 249 325.6 251.2 328.8C253.5 331.9 255.7 334.6 257.5 337.5C259.3 340.4 260.8 343.3 262 346.2C263.2 349.2 263.7 352.1 265 355C266.3 357.9 267.9 361.2 270 363.8C272.1 366.2 274.6 368.1 277.5 370C280.4 371.9 284.2 373.8 287.5 375C290.8 376.2 294.2 377.1 297.5 377.5C300.8 377.9 304.4 378.1 307.5 377.5C310.6 376.9 313.3 375.4 316.2 373.8C319.2 372.1 322.1 370.2 325 367.5C327.9 364.8 331.2 360.8 333.8 357.5C336.2 354.2 338.2 350.6 340 347.5C341.8 344.4 343.6 341.7 344.5 338.8C345.4 335.8 345.8 332.7 345.5 330C345.2 327.3 343.6 324.2 342.5 322.5C341.4 320.8 339.8 321 339.2 320C338.6 319 338.7 318.1 338.8 316.7C338.8 315.3 339 313.4 339.3 311.7C339.6 310 340 308.4 340.4 306.7C340.8 305 341.3 303.5 341.7 301.7C342.1 299.9 342.3 297.8 342.5 295.8C342.7 293.9 343 291.9 342.9 290C342.8 288.1 342.4 285.9 342 284.2C341.6 282.5 341 281.1 340.5 280C340 278.9 339.6 278.3 338.8 277.5C338 276.7 337 275.7 335.8 275C334.6 274.3 333.8 273.7 331.7 273.3C329.6 272.9 326.1 272.8 323.3 272.7C320.5 272.6 317.5 272.7 315 272.5C312.5 272.3 310.5 272.1 308.3 271.7C306.1 271.3 303.9 270.9 301.7 270.4C299.5 269.9 297.2 269.3 295 268.8C292.8 268.2 290.5 267.7 288.3 267.1C286.1 266.5 283.6 265.8 281.7 265.4C279.8 265 278 264.6 276.7 264.6C275.4 264.6 274.5 264.8 273.8 265.4C273 265.9 272.7 267.1 272.1 267.9C271.5 268.7 271.3 269.9 270.4 270.4C269.5 270.9 268 270.9 266.7 270.8C265.4 270.7 263.9 270.2 262.5 269.6C261.1 269.1 259.6 268.1 258.3 267.5C257.1 266.9 255.9 266.1 255 265.8C254.1 265.5 253.5 264.3 253.1 265.6Z" fill="#ff8600" stroke="#ff8600" stroke-width="0.4"/>
<path d="M265.8 279.2C264.2 279.7 262.7 281 262.1 282.5C261.6 284 262 286.4 262.5 288.3C263 290.2 264.2 292.2 265 294.2C265.8 296.1 267 298.3 267.5 300C268 301.7 268.6 303.6 267.9 304.6C267.2 305.6 264.9 305.7 263.3 306.2C261.7 306.8 259.6 307.3 258.3 307.9C257 308.5 255.7 308.8 255.4 310C255.1 311.2 255.6 313.3 256.2 315C256.9 316.7 257.3 318.3 259.2 320C261.1 321.7 264.9 323.3 267.5 325C270.1 326.7 272.5 328.1 275 330C277.5 331.9 280 334.4 282.5 336.2C285 338.1 287.7 340.4 290 341C292.3 341.6 294.2 340.8 296.2 340C298.3 339.2 300.6 337.1 302.5 336.2C304.4 335.4 305.6 335.4 307.5 335C309.4 334.6 312.1 335 313.8 333.8C315.4 332.5 315.8 329.5 317.5 327.5C319.2 325.5 321.6 323.4 323.8 322C325.9 320.6 329.2 319.9 330.5 319C331.8 318.1 331.2 317.6 331.5 316.5C331.8 315.4 331.9 313.9 332.3 312.5C332.7 311.1 333.2 309.8 333.9 308.3C334.6 306.8 335.6 305.2 336.3 303.5C337.1 301.8 337.9 299.8 338.4 297.9C338.9 296 339.4 294.4 339.5 292.4C339.6 290.4 339.4 287.8 339.2 286C338.9 284.2 338.6 282.9 338 281.8C337.4 280.7 336.9 280.1 335.8 279.5C334.8 278.9 333.8 278.7 331.7 278.4C329.6 278.1 326.1 278.1 323.3 277.9C320.5 277.6 318.1 277.4 315 276.9C311.9 276.4 307.8 275.5 305 274.8C302.2 274.1 300.5 273.5 298.3 272.8C296.1 272.1 293.8 271.3 291.7 270.8C289.6 270.3 287.5 270 285.8 270C284.1 270 282.9 270.2 281.7 270.8C280.5 271.4 279.6 272.3 278.8 273.3C277.9 274.3 277.4 275.9 276.8 276.7C276.2 277.5 275.9 277.8 275 278.3C274.1 278.8 273.2 279.5 271.7 279.6C270.2 279.8 267.4 278.7 265.8 279.2Z" fill="#ff4700" stroke="#ff4700" stroke-width="0.4"/>
<path d="M288.3 276.2C287.1 277.1 286.2 278.7 285.4 280C284.6 281.3 284.6 282.8 283.8 284.2C282.9 285.6 281.2 286.9 280 288.3C278.8 289.8 277.3 291.4 276.8 292.9C276.3 294.4 276.6 296 277.1 297.5C277.6 299 278.7 300.4 280 301.7C281.3 302.9 283.2 304 285 305C286.8 306 288.9 306.5 290.8 307.5C292.8 308.5 294.9 309.7 296.7 310.8C298.5 311.9 300 313.1 301.7 314.2C303.4 315.3 305 316.6 306.7 317.5C308.4 318.4 310 319.2 311.7 319.6C313.4 320 315.4 319.8 317 319.6C318.6 319.4 319.8 319.2 321 318.6C322.2 318.1 323.4 317.4 324.5 316.3C325.6 315.2 326.6 313.7 327.6 312C328.6 310.3 329.5 308.1 330.4 306.2C331.3 304.4 332.4 302.6 333.2 300.7C333.9 298.8 334.5 297.1 334.9 295.1C335.2 293.1 335.4 290.6 335.3 288.9C335.2 287.1 335 285.7 334.4 284.6C333.8 283.5 333.2 282.8 331.8 282.4C330.4 281.9 328 282.1 326 281.9C324 281.7 321.8 281.7 320 281.4C318.2 281.1 316.8 280.6 315 280.2C313.2 279.8 311.1 279.2 309.2 278.7C307.2 278.1 305.2 277.4 303.3 276.9C301.4 276.3 299.3 275.8 297.5 275.4C295.7 275 294 274.7 292.5 274.8C291 274.9 289.5 275.4 288.3 276.2Z" fill="#f10800" stroke="#f10800" stroke-width="0.4"/>
<path d="M281.3 317.6 L283.2 316.4 L287.3 318 L283.3 321Z" fill="#f10800" stroke="#f10800" stroke-width="0.4"/>
<path d="M300.8 281.2C299.4 281.5 298.5 281.9 297.5 282.9C296.5 283.9 295.4 285.9 294.6 287.5C293.8 289.1 293 291 292.5 292.5C292 294 291.4 295.3 291.7 296.7C292 298.1 292.8 299.7 294.2 300.8C295.6 301.9 297.9 302.5 300 303.3C302.1 304.1 304.2 304.8 306.7 305.8C309.2 306.8 313.2 308.7 315 309.5C316.8 310.3 316.6 310.6 317.5 310.6C318.4 310.7 319.6 310.2 320.5 309.8C321.4 309.4 322.3 308.9 323.1 308C323.9 307.1 324.8 305.6 325.2 304.2C325.6 302.8 325.7 300.7 325.6 299.3C325.6 297.9 324.9 297.1 324.9 295.8C324.9 294.5 325.5 292.9 325.7 291.7C325.9 290.5 326.4 289.5 326.2 288.8C325.9 288.1 325.2 288.1 324.2 287.6C323.2 287.2 321.5 286.7 320 286.1C318.5 285.6 316.7 284.9 315 284.3C313.3 283.7 311.5 283.1 310 282.7C308.5 282.2 307.5 281.8 306 281.6C304.5 281.4 302.2 281 300.8 281.2Z" fill="#a40000" stroke="#a40000" stroke-width="0.4"/>
<g fill="none" stroke="#000" stroke-width="1.5" stroke-linejoin="round">
<path d="M129.5 182.5C129.8 183.5 130.3 185.8 131 188.5C131.7 191.2 132.8 195.2 133.8 198.8C134.8 202.3 135.8 206.7 137 210C138.2 213.3 139.3 216.7 141.2 218.8C143.2 220.8 146.7 220.2 148.8 222.5C150.8 224.8 152.1 229 153.8 232.5C155.4 236 157.3 241.5 158.8 243.8C160.2 246 161.2 247.9 162.5 246.2C163.8 244.6 164.8 238.1 166.2 233.8C167.7 229.4 169.8 221.5 171.2 220C172.7 218.5 173.5 223.1 175 225C176.5 226.9 178.1 231.5 180 231.2C181.9 231 184 226.9 186.2 223.8C188.5 220.6 190.8 216.2 193.8 212.5C196.7 208.8 200.8 203 203.8 201.2C206.7 199.5 208.3 201.4 211.2 202C214.2 202.6 217.9 204.2 221.2 205C224.6 205.8 228.5 206.7 231.2 206.9C234 207.1 235.4 205.6 237.5 206.2C239.6 206.9 242 208.9 243.8 210.6C245.5 212.3 246.7 214.1 248.1 216.2C249.5 218.4 250.8 221.2 251.9 223.8C253.1 226.2 254 229.2 255 231.2C256 233.3 257 235 258.1 236.2C259.2 237.5 260.3 238.5 261.9 238.8C263.5 239 265.7 238 267.5 237.5C269.3 237 271 236.1 272.5 236C274 235.9 275.2 236.4 276.2 236.9C277.3 237.4 277.8 238.1 278.8 239C279.7 239.9 280.7 241 281.7 242.1C282.7 243.2 283.6 244.6 284.6 245.8C285.6 247.1 286.7 248.3 287.9 249.6C289.1 250.8 290.4 252.2 291.7 253.3C293 254.4 294.4 255.5 295.8 256.2C297.2 257 298.3 257.5 300 257.9C301.7 258.3 303.3 258.5 305.8 258.8C308.3 259 312.1 259.1 315 259.2C317.9 259.3 320.5 259 323.3 259.3C326.1 259.6 329.5 260.2 331.7 260.8C333.9 261.4 335.2 261.9 336.7 262.9C338.2 263.9 339.4 265.4 340.8 266.7C342.2 268 343.8 269.4 345 270.8C346.2 272.2 347.2 273.6 348.3 275C349.4 276.4 350.6 277.7 351.7 279.2C352.8 280.7 353.8 282.6 355 283.8C356.2 284.9 357.5 285.7 359.2 286.2C360.9 286.8 362.9 286.8 365 287.1C367.1 287.4 369.8 287.6 371.7 287.9C373.6 288.2 374.5 288.2 376.2 289C378 289.8 379.9 290.9 382 292.5C384.1 294.1 386.7 297.1 388.9 298.5C391.1 299.9 392.8 300.4 395 301.2C397.2 301.9 399.9 302.4 402.2 303C404.5 303.6 406.9 304.2 408.9 305C410.9 305.8 412.5 306 414.4 307.8C416.2 309.6 417.9 313.8 420 315.6C422.1 317.5 423.4 318.6 426.7 318.9C430 319.1 436.3 317.1 440 317.1C443.7 317.1 445.6 319 448.9 318.9C452.2 318.8 457.4 316 460 316.2C462.6 316.4 462.9 317.7 464.4 320C465.9 322.3 467 326.5 468.9 330C470.8 333.5 473.6 337.4 475.6 341.1C477.6 344.8 479.2 349.8 481.1 352.2C483 354.6 484.1 355.2 486.7 355.6C489.3 356.1 494.1 356.1 496.7 354.9C499.3 353.7 500.2 349.8 502.2 348.2C504.2 346.6 506.3 346.1 508.9 345.1C511.5 344.1 515.2 343.1 517.8 342.2C520.4 341.3 522.2 340.1 524.4 340C526.6 339.9 529.2 339.9 531.1 341.6C533 343.3 534.7 348.3 535.6 350C536.5 351.7 536.4 351.7 536.5 352" stroke-dasharray="5.55 2.4"/>
<path d="M129.5 74.2C130.4 73.5 133 71.5 135 70C137 68.5 140.3 66.1 141.4 65.3" stroke-dasharray="5.55 2.4"/>
<path d="M525.5 65.3 L525.8 69.4 L526.6 73.2 L530.2 75.1 L532.7 76.2 L536.5 76.4" stroke-dasharray="5.55 2.4"/>
<path d="M536.5 88.4 L528 88.4 L525.9 90 L525.7 96 L526 105.8 L526.7 114 L527.8 119.7 L532 123 L536.5 125" stroke-dasharray="5.55 2.4"/>
<path d="M201.2 65.3C199.8 67.1 195 73 192.5 76.2C190 79.5 187.6 81.9 186.2 85C184.9 88.1 185.8 91.5 184.5 95C183.2 98.5 180.1 102.7 178.8 106.2C177.4 109.8 176.6 112.7 176.2 116.2C175.9 119.8 176.5 123.5 176.8 127.5C177 131.5 176.8 136.6 177.5 140C178.2 143.4 179 146.3 181.2 148C183.5 149.7 188.8 148.6 191.2 150C193.8 151.4 194.8 154.5 196.2 156.2C197.7 158 197.5 159.9 200 160.5C202.5 161.1 208 159.9 211.2 160C214.5 160.1 217.4 160 219.5 161.2C221.6 162.5 221.8 165.4 223.8 167.5C225.7 169.6 228.5 171.5 231.2 173.8C234 176 237.8 179.4 240 181.2C242.2 183.1 243.2 183.3 244.4 185C245.6 186.7 246 189.2 246.9 191.2C247.8 193.3 249 195.2 250 197.5C251 199.8 252.2 202.7 253.1 205C254 207.3 254.8 209.2 255.6 211.2C256.4 213.3 257 215.4 257.8 217.5C258.5 219.6 259 222 260 223.8C261 225.5 262.3 227.4 263.8 228.1C265.2 228.8 267 228.4 268.8 228.1C270.5 227.8 272.9 226.3 274.4 226.2C275.9 226.2 276.7 226.5 277.5 227.5C278.3 228.5 278.6 230.6 279.4 232.5C280.2 234.4 281.4 236.9 282.5 238.8C283.6 240.6 285 242.1 286.2 243.8C287.5 245.4 288.7 247.2 290 248.5C291.3 249.8 292.7 250.6 294.2 251.3C295.7 252 297.3 252.5 299.2 252.9C301.1 253.3 303.2 253.5 305.8 253.7C308.4 253.9 312.1 253.9 315 254C317.9 254.1 320.5 254.1 323.3 254.5C326.1 254.9 329.5 255.6 331.7 256.5C333.9 257.4 335 258.5 336.7 259.8C338.4 261.1 340.2 262.9 341.7 264.5C343.2 266.1 344.4 267.7 345.8 269.2C347.2 270.7 348.6 272.1 350 273.3C351.4 274.6 352.7 275.8 354.2 276.7C355.7 277.6 357.4 278.3 359.2 278.8C361 279.2 362.4 279.2 365 279.2C367.6 279.2 372.5 279.1 375 279C377.5 278.9 377.5 278.8 380 278.8C382.5 278.7 386.9 278.3 390 278.8C393.1 279.2 395.8 280.8 398.8 281.2C401.7 281.7 405.1 281.7 407.5 281.2C409.9 280.8 411.2 278.7 413.3 278.4C415.4 278.1 417.8 278.2 420 279.3C422.2 280.4 424.7 283.8 426.7 285.1C428.7 286.4 430.2 287.2 432.2 287.1C434.2 287 436.3 285.8 438.9 284.4C441.5 283 444.8 280.6 447.8 278.9C450.8 277.2 453.9 275.4 456.7 274C459.5 272.6 462 270.9 464.4 270.4C466.8 269.9 468.5 270.7 471.1 271.1C473.7 271.5 477 271.9 480 272.7C483 273.4 486.1 274.3 488.9 275.6C491.7 276.9 494.3 280 496.7 280.7C499.1 281.4 501.1 281.1 503.3 280C505.5 278.9 507.8 277.2 510 274.4C512.2 271.6 514.7 267 516.7 263.3C518.7 259.6 520.9 256.3 522.2 252.2C523.5 248.1 524 243.2 524.4 238.9C524.8 234.7 525.3 230.6 524.9 226.7C524.5 222.8 522.8 219.1 521.8 215.6C520.8 212.1 519 208.6 518.9 205.6C518.8 202.6 519.8 200.3 521.1 197.8C522.4 195.3 525.4 192.9 526.9 190.4C528.4 187.9 529.9 185.2 530.2 182.6C530.5 180 529.9 177.8 528.9 174.9C527.9 172 526 168.5 524 165.1C522 161.7 519.5 158 517.2 154.4C514.9 150.8 512.8 146.8 510.4 143.8C508 140.7 504.4 138.8 502.6 136C500.8 133.2 501 130.1 499.7 127.2C498.4 124.3 497 121.7 494.9 118.5C492.8 115.3 489.4 110.9 487 107.8C484.6 104.7 482.2 102.3 480.3 100C478.4 97.7 476.2 96.2 475.7 94C475.2 91.8 477.4 89.4 477.5 87C477.6 84.6 476.8 81.8 476.4 79.4C476 77 475.9 74.8 475 72.5C474.1 70.2 471.5 66.5 470.8 65.3" stroke-dasharray="5.55 2.4"/>
<path d="M318.8 65.3C317.7 66.3 314.8 69.3 312.5 71.2C310.2 73.2 307.9 75.6 305 77C302.1 78.4 298.3 78.9 295 79.5C291.7 80.1 288.3 79.6 285 80.5C281.7 81.4 278.1 82.6 275 85C271.9 87.4 269 91.5 266.2 95C263.5 98.5 260.5 102.5 258.8 106.2C257 110 255.7 114.2 255.5 117.5C255.3 120.8 256.8 123.5 257.5 126.2C258.2 129 259.7 130.6 260 133.8C260.3 136.9 259.5 141 259.5 145C259.5 149 260 153.3 260 157.5C260 161.7 259 165.8 259.2 170C259.5 174.2 260.2 179.4 261.2 182.5C262.3 185.6 264.9 186.7 265.6 188.8C266.3 190.8 265.8 192.9 265.6 195C265.4 197.1 264.3 199.3 264.4 201.2C264.5 203.2 265.3 205.1 266.2 206.9C267.2 208.7 268.5 210.6 270 211.9C271.5 213.2 273.4 214.2 275 215C276.6 215.8 278.2 215.9 279.4 216.9C280.5 217.9 281.2 219.5 281.9 221.2C282.6 223 283.2 225.4 283.8 227.5C284.3 229.6 284.4 231.8 285 233.8C285.6 235.7 286.5 237.6 287.5 239.4C288.5 241.2 290 242.9 291.2 244.4C292.5 245.9 293.7 247.6 295 248.5C296.3 249.4 297.4 249.6 299.2 250C301 250.4 303.2 250.6 305.8 250.8C308.4 251 312.1 251.1 315 251.3C317.9 251.5 320.5 251.6 323.3 252C326.1 252.4 329.3 252.9 331.7 253.8C334.1 254.7 335.7 256.1 337.5 257.5C339.3 258.9 340.8 260.5 342.5 262C344.2 263.5 345.8 265.3 347.5 266.7C349.2 268.1 350.7 269.5 352.5 270.4C354.3 271.3 356.2 271.8 358.3 272.1C360.4 272.4 362.8 272.3 365 272.1C367.2 271.9 369.6 271.8 371.7 270.8C373.8 269.8 375.1 267.8 377.5 266.2C379.9 264.7 383.1 262.5 386.2 261.2C389.4 260 393.1 259.6 396.2 258.8C399.4 257.9 402.3 256.9 405 256.2C407.7 255.6 409.8 254.9 412.5 255C415.2 255.1 418.5 256.8 421.2 257C424 257.2 426.2 257.5 428.8 256.5C431.3 255.5 434.5 253.3 436.7 251.1C438.9 248.9 440.5 246.1 441.8 243.3C443.1 240.5 443.4 237.4 444.4 234.4C445.4 231.4 446.3 228.4 447.8 225.6C449.3 222.8 451.3 219.9 453.3 217.8C455.3 215.8 457.2 214.2 460 213.3C462.8 212.4 467.2 212.9 470 212.2C472.8 211.5 475.3 210.9 476.7 208.9C478.1 206.9 478.2 202.9 478.2 200C478.1 197.1 477.6 194.6 476.4 191.4C475.2 188.2 472.2 183.8 470.9 180.7C469.6 177.6 468.3 176 468.6 172.9C468.9 169.8 472.1 165.4 472.5 162.2C472.9 159 471.9 156.9 470.9 153.5C469.9 150.1 467.9 145.5 466.7 141.8C465.5 138.1 465.1 134.3 463.8 131.1C462.4 127.9 462 125.8 458.9 122.4C455.8 119 449.1 114 445.3 110.7C441.5 107.4 439.2 104.9 436.2 102.5C433.3 100.1 431 98.1 427.5 96.2C424 94.4 418.1 92.9 415 91.2C411.9 89.6 410.1 88.3 408.8 86.2C407.4 84.2 408.2 81 407 78.8C405.8 76.5 403.7 74.7 401.2 72.5C398.8 70.3 394 66.5 392.5 65.3" stroke-dasharray="5.55 2.4"/>
<path d="M305 151.5C302.1 155.1 300.4 157.8 297.5 161.2C294.6 164.8 290.4 168.7 287.5 172.5C284.6 176.3 281.6 181.1 280 184C278.4 186.9 278.4 188.2 278.1 190C277.8 191.8 277.7 193.4 278.1 195C278.5 196.6 279.6 198.2 280.6 199.4C281.7 200.6 283 201.7 284.4 201.9C285.8 202.1 287.2 201.2 288.8 200.6C290.3 200 292.5 198.4 293.8 198.1C295 197.8 296.2 197.6 296.5 198.5C296.8 199.4 296.2 201.9 295.6 203.8C295 205.6 293.9 207.5 293.1 209.4C292.3 211.3 291.3 213 290.6 215C289.9 217 289.1 219.2 288.8 221.2C288.4 223.3 288.7 225.6 288.8 227.5C288.8 229.4 288.9 230.8 289.2 232.5C289.5 234.2 289.8 236 290.4 237.5C290.9 239 291.6 240.4 292.5 241.7C293.4 243 294.6 244.5 295.8 245.4C297.1 246.3 298.3 246.8 300 247.3C301.7 247.8 303.3 248 305.8 248.3C308.3 248.6 312.1 248.8 315 249C317.9 249.2 320.5 249.2 323.3 249.6C326.1 250 329.2 250.6 331.7 251.5C334.2 252.4 336.2 253.9 338.3 255.2C340.4 256.5 342.4 258.1 344.2 259.5C346 260.9 347.5 262.2 349.2 263.3C350.9 264.4 352.4 265.6 354.2 266.2C356 266.9 357.9 267.2 360 267.1C362.1 267 364.8 266.3 366.7 265.4C368.6 264.5 370.3 263 371.7 261.7C373.1 260.4 374.2 258.8 375 257.5C375.8 256.2 375.4 255.6 376.2 253.8C377.1 251.9 378.5 248.3 380 246.2C381.5 244.2 382.7 242.7 385 241.2C387.3 239.8 391 239 393.8 237.5C396.5 236 399 233.8 401.2 232.5C403.5 231.2 405.2 231 407.5 230C409.8 229 413.3 227.9 415 226.2C416.7 224.6 417 222 417.5 220C418 218 417.8 217.6 417.8 214.4C417.8 211.2 417.7 205.2 417.3 201.1C416.9 197 416.4 193.5 415.6 190C414.8 186.5 413.6 183.3 412.5 180C411.4 176.7 409.6 173.3 408.8 170C407.9 166.7 408.3 162.9 407.5 160C406.7 157.1 405.4 154.8 403.8 152.5C402.1 150.2 400 147.8 397.5 146.2C395 144.7 392.1 144.1 388.8 143.2C385.4 142.4 381.2 141.3 377.5 141.2C373.8 141.2 369 143.4 366.2 143C363.5 142.6 362.9 140.4 361.2 138.8C359.6 137.1 358.5 134.5 356.2 133C354 131.5 350.6 130.1 347.5 129.5C344.4 128.9 341 129 337.5 129.5C334 130 330 130.8 326.2 132.5C322.5 134.2 318.5 136.3 315 139.5C311.5 142.7 307.9 147.9 305 151.5Z" stroke-dasharray="5.55 2.4"/>
<path d="M310 195C311.5 192.3 314 187.9 316.2 185C318.5 182.1 320.2 179.2 323.8 177.5C327.3 175.8 333.1 174.5 337.5 174.5C341.9 174.5 346 176 350 177.5C354 179 357.7 181.5 361.2 183.8C364.8 186 368.8 189.2 371.2 191.2C373.7 193.3 374.5 194.1 376 196C377.5 197.9 379.1 199.8 380 202.5C380.9 205.2 381.1 209.8 381.2 212.5C381.4 215.2 381.3 217.2 381 219C380.7 220.8 380.3 222.2 379.3 223.3C378.3 224.4 376.5 224.8 375 225.4C373.5 226 371.6 226 370.5 226.7C369.4 227.4 368.7 227.9 368.4 229.5C368.1 231.1 368.4 234.1 368.5 236C368.6 237.9 368.8 239.5 368.9 241C369 242.5 369.3 243.2 369.2 245C369.1 246.8 368.7 249.6 368.3 251.7C367.9 253.8 367.7 256.1 366.7 257.5C365.7 258.9 364.2 259.8 362.5 260.4C360.8 260.9 358.6 261 356.7 260.8C354.8 260.6 352.6 260 350.8 259.2C349 258.4 347.7 257.3 345.8 256.2C343.9 255.1 341.6 254 339.2 252.8C336.8 251.7 334.3 250.2 331.7 249.3C329.1 248.4 326.1 247.9 323.3 247.4C320.5 246.9 317.9 246.8 315 246.5C312.1 246.2 308.2 246 305.8 245.6C303.4 245.2 302.2 244.9 300.8 244.2C299.4 243.5 298.4 242.6 297.5 241.5C296.6 240.4 295.9 239 295.4 237.5C294.9 236 294.6 234.1 294.6 232.5C294.6 230.9 295.2 230 295.6 228.1C296 226.2 296.3 223.6 296.9 221.2C297.5 218.9 298.4 216 299.4 213.8C300.4 211.5 301.8 209.6 303.1 207.5C304.5 205.4 306.4 203.3 307.5 201.2C308.6 199.2 308.5 197.7 310 195Z" stroke-dasharray="5.55 2.4"/>
<path d="M300.6 236.2C300.4 234.2 301.6 231.1 302.5 228.8C303.4 226.4 304.9 224 306.2 221.9C307.6 219.8 309.5 218 310.6 216.2C311.7 214.5 312.1 212.8 313.1 211.2C314.2 209.7 315.8 208.5 316.9 206.9C318 205.3 318.4 203.3 320 201.9C321.6 200.5 324 199.5 326.2 198.8C328.5 198 331.2 197.7 333.8 197.5C336.2 197.3 339 197.4 341.2 197.8C343.5 198.1 345.6 198.5 347.5 199.4C349.4 200.3 351.2 201.5 352.5 203.1C353.8 204.7 354.8 207 355 208.8C355.2 210.5 354.2 211.9 353.8 213.8C353.3 215.6 352.3 218 352.5 220C352.7 222 354 223.7 355 225.6C356 227.5 357.9 229.1 358.8 231.2C359.6 233.4 360 236.3 360.4 238.3C360.8 240.3 361 241.5 361.2 243.3C361.5 245.1 361.9 247.5 361.7 249.2C361.5 250.9 360.8 252.7 360 253.8C359.2 254.8 358.1 255.2 356.7 255.4C355.3 255.6 353.4 255.4 351.7 255C350 254.6 348.6 253.8 346.7 253C344.8 252.2 342.5 251 340 250C337.5 249 334.5 247.8 331.7 247C328.9 246.2 326.1 245.8 323.3 245.4C320.5 245 317.6 244.7 315 244.3C312.4 244 309.9 243.9 308 243.3C306.1 242.8 304.7 242.2 303.5 241C302.3 239.8 300.8 238.3 300.6 236.2Z" stroke-dasharray="5.55 2.4"/>
<path d="M307.5 235C307.9 233.5 308.5 230.7 310 228.8C311.5 226.8 313.8 224.5 316.2 223.1C318.8 221.7 322.1 221 325 220.6C327.9 220.2 331 220.2 333.8 220.6C336.5 221 339 221.8 341.2 223.1C343.5 224.3 345.8 226.3 347.5 228.1C349.2 229.9 350.7 232.2 351.7 234C352.7 235.8 353.2 237.5 353.8 239.2C354.3 240.9 354.9 242.7 355 244.2C355.1 245.7 354.8 247.3 354.2 248.3C353.6 249.3 352.9 249.8 351.7 250C350.4 250.2 348.6 249.8 346.7 249.4C344.8 249 342.5 248.1 340 247.3C337.5 246.6 334.5 245.6 331.7 244.9C328.9 244.2 326.1 243.8 323.3 243.4C320.5 243 317.2 242.7 315 242.3C312.8 241.9 311.2 241.7 310 241C308.8 240.3 307.9 239 307.5 238C307.1 237 307.1 236.5 307.5 235Z" stroke-dasharray="5.55 2.4"/>
<path d="M318.1 235C318.5 233.8 319.5 231.7 321.2 230.6C323 229.5 326.2 228.5 328.8 228.5C331.2 228.5 334 229.6 336.2 230.6C338.5 231.6 340.9 233.1 342.5 234.4C344.1 235.7 345.4 237.2 345.8 238.5C346.2 239.8 346 241.2 345 242C344 242.8 342.2 243.5 340 243.5C337.8 243.5 334.5 242.7 331.7 242.1C328.9 241.5 325.5 240.8 323.3 240C321.1 239.2 319.6 238.3 318.8 237.5C317.9 236.7 317.7 236.2 318.1 235Z" stroke-dasharray="5.55 2.4"/>
<path d="M129.5 271.5C130.1 272 131.8 273.8 133 274.5C134.2 275.2 135.6 275.7 137 276C138.4 276.3 140.2 276.5 141.7 276.3C143.2 276.1 144.3 274.8 145.8 274.7C147.3 274.6 148.9 274.6 150.8 275.8C152.8 277 155.4 279.9 157.5 281.7C159.6 283.4 161.5 286.2 163.3 286.3C165.1 286.4 166.4 284 168.3 282.5C170.2 281 172.6 278.9 175 277.5C177.4 276.1 180.5 274.7 182.5 274.2C184.5 273.7 185.8 274.1 187 274.3C188.2 274.5 188.8 275.9 189.7 275.3C190.6 274.7 191.8 272.8 192.5 270.5C193.2 268.2 193.8 264.7 194.2 261.7C194.6 258.7 194.4 255.7 195.2 252.5C196 249.3 197.1 245.1 198.8 242.5C200.4 239.9 202.9 237.4 205 237C207.1 236.6 209.2 238.5 211.2 240C213.3 241.5 215.4 244.2 217.5 246.2C219.6 248.3 222.2 250.9 223.8 252.5C225.3 254.1 226.1 255.8 226.9 255.6C227.7 255.4 228.2 253.2 228.5 251.2C228.8 249.3 228.6 246.5 228.8 243.8C228.9 241 229.2 237.7 229.4 235C229.6 232.3 229.4 229.6 230 227.5C230.6 225.4 231.8 223.7 233.1 222.5C234.3 221.3 236 220.7 237.5 220.6C239 220.5 240.7 221.2 241.9 221.9C243.2 222.6 244 223.7 245 225C246 226.3 246.9 228.1 248.1 230C249.2 231.9 250.8 234.3 251.9 236.2C253.1 238.2 253.9 240.3 255 241.7C256.1 243.1 257.2 244 258.3 244.6C259.4 245.2 260.4 245.5 261.7 245.4C262.9 245.3 264.4 244.5 265.8 244.2C267.2 243.8 268.8 243.4 270 243.3C271.2 243.2 272.2 243.3 273.3 243.8C274.4 244.2 275.6 245 276.7 245.8C277.8 246.6 278.8 247.3 280 248.3C281.2 249.3 282.8 250.6 284.2 251.7C285.6 252.8 286.9 253.9 288.3 255C289.7 256.1 291.1 257.4 292.5 258.3C293.9 259.2 295.2 259.8 296.7 260.4C298.2 261 299.8 261.4 301.7 261.7C303.6 262 306.1 262 308.3 262.1C310.5 262.2 312.5 262.4 315 262.5C317.5 262.6 320.5 262.6 323.3 262.9C326.1 263.2 329.5 263.6 331.7 264.2C333.9 264.8 335.3 265.4 336.7 266.2C338.1 267.1 338.9 268.1 340 269.2C341.1 270.3 342.3 271.8 343.3 273C344.3 274.2 345.2 275.3 346 276.5C346.8 277.7 347.4 278.6 348.3 280C349.2 281.4 350.7 283.3 351.7 285C352.7 286.7 353.5 288.5 354.2 290C354.9 291.5 355 292.8 355.8 293.8C356.6 294.7 357.8 295.2 359.2 295.8C360.6 296.4 362.7 296.5 364.2 297.1C365.7 297.7 366.9 298.4 368.3 299.2C369.7 300 371.1 300.5 372.5 302C373.9 303.5 375.4 306.1 377 308C378.6 309.9 380.2 311.6 382 313.2C383.8 314.8 385.5 315.9 387.8 317.6C390.1 319.3 393.6 321.2 395.6 323.3C397.6 325.4 398.9 327 400 330C401.1 333 401.5 337.7 402.5 341.2C403.5 344.8 404.6 348.8 406.2 351.2C407.9 353.8 410.2 355.1 412.5 356.2C414.8 357.4 417.7 357 420 358C422.3 359 424.2 362 426.2 362C428.3 362 430.5 358.5 432.5 358C434.5 357.5 436.8 357.2 438 358.8C439.2 360.3 439.9 364 440 367.5C440.1 371 439.6 375.6 438.8 380C437.9 384.4 436.5 389.6 435 393.8C433.5 397.9 432.1 401.2 430 405C427.9 408.8 425 412.5 422.5 416.2C420 420 417.1 424.4 415 427.5C412.9 430.6 411.7 432.1 410 435C408.3 437.9 406.2 442.1 405 445C403.8 447.9 402.8 450.3 403 452.5C403.2 454.7 404.2 457 406.2 458C408.2 459 412.8 457.8 415 458.8C417.2 459.7 418.7 461.3 419.5 463.8C420.3 466.2 419.9 471.7 420 473.3"/>
<path d="M129.5 324C130 324.9 131.2 329.2 132.5 329.5C133.8 329.8 135.2 326.2 137.5 325.5C139.8 324.8 143.3 324.6 146.2 325C149.2 325.4 152.3 326.5 155 328C157.7 329.5 160.2 332.1 162.5 333.8C164.8 335.4 166.5 337 168.8 338C171 339 174.6 339.6 176.2 339.5C177.9 339.4 179 339.3 178.8 337.5C178.5 335.7 175.4 331.2 175 328.8C174.6 326.3 175.2 323.6 176.2 323C177.3 322.4 179.2 323.8 181.2 325C183.3 326.2 186.7 328.8 188.8 330C190.8 331.2 192.3 332.4 193.8 332C195.2 331.6 197.1 329.9 197.5 327.5C197.9 325.1 196 320.4 196.2 317.5C196.5 314.6 197.3 311.9 198.8 310C200.2 308.1 203.1 307.4 205 306.2C206.9 305.1 209.2 304.5 210 303C210.8 301.5 210.2 300.1 210 297.5C209.8 294.9 209.4 290.8 208.8 287.5C208.1 284.2 206.2 280.8 206.2 277.5C206.2 274.2 207.5 270 208.8 267.5C210 265 211.9 263.1 213.8 262.5C215.6 261.9 218.1 263.3 220 264C221.9 264.7 223.7 265.6 225 266.5C226.3 267.4 227.1 268.7 228 269.5C228.9 270.3 229.8 271.5 230.6 271.5C231.3 271.5 231.9 271.1 232.5 269.4C233.1 267.7 233.9 264.1 234.4 261.2C234.9 258.4 235.1 255.4 235.2 252.5C235.4 249.6 235.3 246.7 235.6 243.8C235.9 240.8 236.2 237.1 236.9 235C237.6 232.9 238.9 231.6 240 231.2C241.1 230.9 242.5 231.8 243.8 233.1C245 234.3 246.1 236.9 247.5 238.8C248.9 240.6 250.7 242.5 251.9 244.4C253.2 246.3 253.9 248.9 255 250.4C256.1 251.9 257.2 252.7 258.3 253.3C259.4 253.9 260.4 254.3 261.7 254.2C262.9 254.1 264.4 253 265.8 252.5C267.2 252 268.8 251.4 270 251.2C271.2 251.1 272.1 251.3 273.3 251.7C274.6 252.1 276 252.9 277.5 253.8C279 254.6 280.7 255.7 282.5 256.7C284.3 257.7 286.5 258.7 288.3 259.6C290.1 260.5 291.6 261.4 293.3 262.1C295 262.8 296.4 263.3 298.3 263.8C300.2 264.2 302.2 264.7 305 265C307.8 265.3 311.9 265.6 315 265.8C318.1 266 320.5 266 323.3 266.2C326.1 266.5 329.5 266.6 331.7 267.1C333.9 267.6 335.3 268.4 336.7 269.2C338.1 270 339 271 340 272.1C341 273.2 341.8 274.7 342.5 275.8C343.2 276.9 343.9 278.2 344.5 279C345.1 279.8 345.2 279.4 345.8 280.5C346.4 281.6 347.2 283.9 347.9 285.8C348.6 287.7 349.4 289.9 350 291.7C350.6 293.5 351 295.2 351.7 296.7C352.4 298.2 353.2 299.6 354.2 300.8C355.2 302 356.4 302.7 357.5 303.8C358.6 304.8 359.7 305.9 360.8 307.1C361.9 308.3 363.2 309.5 364.2 310.8C365.2 312.1 365.9 313.5 366.7 315C367.5 316.5 367.8 317.7 368.8 320C369.7 322.3 371.2 325.4 372.5 328.8C373.8 332.1 375.3 336 376.2 340C377.2 344 377.9 347.9 378 352.5C378.1 357.1 377.7 362.5 377 367.5C376.3 372.5 374.5 378.2 373.8 382.5C373 386.8 372.1 389.7 372.5 393C372.9 396.3 374.2 400.2 376.2 402.5C378.3 404.8 382.7 404.7 385 406.5C387.3 408.3 388.2 411.3 390 413.5C391.8 415.7 394.5 417.1 395.6 419.5C396.7 421.9 396.9 424.8 396.5 428C396.1 431.2 394.4 435.2 393.3 438.5C392.2 441.8 391.2 445.1 390 447.8C388.8 450.5 388.3 452.3 386.2 454.5C384.2 456.7 380.2 459.5 377.5 461.2C374.8 463 371.9 463 370 465C368.1 467 366.9 471.9 366.2 473.3"/>
<path d="M129.5 439C130.4 440.6 132.8 445.7 135 448.8C137.2 451.8 140 455.2 142.5 457.5C145 459.8 147.9 461 150 462.5C152.1 464 153.5 464.4 155 466.2C156.5 468.1 158.1 472.1 158.8 473.3"/>
<path d="M247.6 473.3C247.7 472.4 247.8 469.3 247.9 468C248 466.7 248 465.9 248.3 465.3C248.7 464.7 248.2 464.7 250 464.4C251.8 464.1 255.5 464 259.4 463.6C263.3 463.2 269.9 462.6 273.3 462.3C276.7 462 276.6 462.2 280 461.9C283.4 461.5 289.3 460.8 293.9 460.2C298.5 459.6 303.6 458.9 307.8 458.4C312 457.9 315.7 457.2 318.9 457C322.1 456.8 324.8 457 327.2 457.4C329.6 457.8 331.9 458.2 333.5 459.1C335.1 460 336 461.2 336.9 462.6C337.8 464 338.6 465.6 339 467.4C339.4 469.2 339.3 472.3 339.4 473.3"/>
<path d="M245.5 245.5C244.6 245.5 243.6 245.9 243.1 247.5C242.6 249.1 242.7 252.3 242.5 255C242.3 257.7 242.1 260.8 241.9 263.8C241.7 266.7 241.6 269.8 241.2 272.5C240.9 275.2 240.7 277.7 240 280C239.3 282.3 238.2 285.5 236.9 286.2C235.7 287 234.1 284.9 232.5 284.4C230.9 283.9 229.2 282.8 227.5 283C225.8 283.2 223.5 283.5 222 285.5C220.5 287.5 218.9 291.8 218.8 295C218.6 298.2 220.2 302.2 221.2 305C222.3 307.8 223.6 309.9 225 312C226.4 314.1 228.7 315.3 229.5 317.5C230.3 319.7 230.5 322.3 230 325C229.5 327.7 227 331 226.2 333.8C225.5 336.5 225.1 338.5 225.5 341.2C225.9 344 227.5 347.1 228.8 350C230 352.9 232.3 355.6 233 358.8C233.7 361.9 233.5 365.6 233 368.8C232.5 371.9 230.7 374.8 230 377.5C229.3 380.2 228.3 382.7 228.8 385C229.2 387.3 231 389.4 232.5 391.2C234 393.1 237 394.3 237.5 396.2C238 398.2 234.9 401.7 235.5 403C236.1 404.3 239.2 404.1 241.2 404C243.2 403.9 245.8 401.9 247.5 402.5C249.2 403.1 250.4 405 251.2 407.5C252.1 410 252.3 414.6 252.5 417.5C252.7 420.4 252.9 422.9 252.5 425C252.1 427.1 250.1 428.3 250 430C249.9 431.7 252.4 433.3 252 435C251.6 436.7 249.7 438.5 247.5 440C245.3 441.5 241.7 442.4 238.8 443.8C235.8 445.1 232.4 446.5 230 448C227.6 449.5 225.5 450.7 224.5 452.5C223.5 454.3 223.5 456.7 223.8 458.8C224 460.8 225 463.3 226.2 465C227.5 466.7 229.4 468.3 231.2 468.8C233.1 469.2 235.6 468.5 237.5 467.5C239.4 466.5 240.4 464 242.5 462.5C244.6 461 247.1 460.2 250 458.8C252.9 457.3 256.7 455.1 260 453.8C263.3 452.4 266.7 451.8 270 450.5C273.3 449.2 276.7 448.2 280 446.2C283.3 444.3 286.7 441.7 290 438.8C293.3 435.8 296.5 432.3 300 428.8C303.5 425.2 307.5 420.8 311.2 417.5C315 414.2 319 411.7 322.5 408.8C326 405.8 330 402.7 332.5 400C335 397.3 335.4 395.8 337.5 392.5C339.6 389.2 342.7 384.2 345 380C347.3 375.8 349.4 371.9 351.2 367.5C353.1 363.1 355 358.1 356.2 353.8C357.5 349.4 358.5 345.4 358.8 341.2C359 337.1 358.6 332.3 358 328.8C357.4 325.2 355.8 322.4 355 320C354.2 317.6 353.9 315.9 353.3 314.2C352.7 312.5 351.9 311.4 351.2 310C350.6 308.6 349.8 307.2 349.2 305.8C348.6 304.4 348.2 303.2 347.9 301.7C347.5 300.2 347.4 298.4 347.1 296.7C346.8 295 346.6 293.5 346.2 291.7C345.9 289.9 345.3 287.8 344.8 285.8C344.3 283.9 343.9 281.5 343.3 280C342.8 278.5 342.2 277.9 341.5 277C340.8 276.1 340.1 275.5 339.2 274.6C338.2 273.7 337.1 272.4 335.8 271.7C334.6 271 333.8 270.8 331.7 270.4C329.6 270 326.1 269.8 323.3 269.6C320.5 269.4 317.8 269.4 315 269.2C312.2 269 309.2 268.6 306.7 268.3C304.2 268 302.1 267.5 300 267.1C297.9 266.7 296.1 266.3 294.2 265.8C292.2 265.3 290.2 264.8 288.3 264.2C286.4 263.6 284.3 262.8 282.5 262.1C280.7 261.4 279 260.6 277.5 260C276 259.4 274.6 258.9 273.3 258.8C272.1 258.6 271 258.8 270 259.2C269 259.6 268.3 260.6 267.5 261.2C266.7 261.9 266 262.8 265 262.9C264 263 262.8 262.6 261.7 262.1C260.6 261.6 259.4 260.8 258.3 260C257.2 259.2 256.1 258.4 255 257.1C253.9 255.9 252.9 254.1 251.9 252.5C250.9 250.9 249.8 248.7 248.8 247.5C247.7 246.3 246.4 245.5 245.5 245.5Z"/>
<path d="M253.1 265.6C252.7 266.9 252.3 270.9 252.5 273.8C252.7 276.6 254 280 254.4 282.5C254.8 285 255.2 286.7 255 288.8C254.8 290.8 254 293.1 253.1 295C252.2 296.9 251 299.4 249.4 300C247.8 300.6 245.7 299.3 243.8 298.8C241.8 298.2 239.1 297 237.5 296.9C235.9 296.8 235.1 297.2 234.4 298.1C233.7 299 232.9 300.9 233.1 302.5C233.3 304.1 234.7 305.8 235.6 307.5C236.5 309.2 237.1 311.1 238.5 313C239.9 314.9 241.6 316.1 243.8 318.8C245.9 321.4 249 325.6 251.2 328.8C253.5 331.9 255.7 334.6 257.5 337.5C259.3 340.4 260.8 343.3 262 346.2C263.2 349.2 263.7 352.1 265 355C266.3 357.9 267.9 361.2 270 363.8C272.1 366.2 274.6 368.1 277.5 370C280.4 371.9 284.2 373.8 287.5 375C290.8 376.2 294.2 377.1 297.5 377.5C300.8 377.9 304.4 378.1 307.5 377.5C310.6 376.9 313.3 375.4 316.2 373.8C319.2 372.1 322.1 370.2 325 367.5C327.9 364.8 331.2 360.8 333.8 357.5C336.2 354.2 338.2 350.6 340 347.5C341.8 344.4 343.6 341.7 344.5 338.8C345.4 335.8 345.8 332.7 345.5 330C345.2 327.3 343.6 324.2 342.5 322.5C341.4 320.8 339.8 321 339.2 320C338.6 319 338.7 318.1 338.8 316.7C338.8 315.3 339 313.4 339.3 311.7C339.6 310 340 308.4 340.4 306.7C340.8 305 341.3 303.5 341.7 301.7C342.1 299.9 342.3 297.8 342.5 295.8C342.7 293.9 343 291.9 342.9 290C342.8 288.1 342.4 285.9 342 284.2C341.6 282.5 341 281.1 340.5 280C340 278.9 339.6 278.3 338.8 277.5C338 276.7 337 275.7 335.8 275C334.6 274.3 333.8 273.7 331.7 273.3C329.6 272.9 326.1 272.8 323.3 272.7C320.5 272.6 317.5 272.7 315 272.5C312.5 272.3 310.5 272.1 308.3 271.7C306.1 271.3 303.9 270.9 301.7 270.4C299.5 269.9 297.2 269.3 295 268.8C292.8 268.2 290.5 267.7 288.3 267.1C286.1 266.5 283.6 265.8 281.7 265.4C279.8 265 278 264.6 276.7 264.6C275.4 264.6 274.5 264.8 273.8 265.4C273 265.9 272.7 267.1 272.1 267.9C271.5 268.7 271.3 269.9 270.4 270.4C269.5 270.9 268 270.9 266.7 270.8C265.4 270.7 263.9 270.2 262.5 269.6C261.1 269.1 259.6 268.1 258.3 267.5C257.1 266.9 255.9 266.1 255 265.8C254.1 265.5 253.5 264.3 253.1 265.6Z"/>
<path d="M265.8 279.2C264.2 279.7 262.7 281 262.1 282.5C261.6 284 262 286.4 262.5 288.3C263 290.2 264.2 292.2 265 294.2C265.8 296.1 267 298.3 267.5 300C268 301.7 268.6 303.6 267.9 304.6C267.2 305.6 264.9 305.7 263.3 306.2C261.7 306.8 259.6 307.3 258.3 307.9C257 308.5 255.7 308.8 255.4 310C255.1 311.2 255.6 313.3 256.2 315C256.9 316.7 257.3 318.3 259.2 320C261.1 321.7 264.9 323.3 267.5 325C270.1 326.7 272.5 328.1 275 330C277.5 331.9 280 334.4 282.5 336.2C285 338.1 287.7 340.4 290 341C292.3 341.6 294.2 340.8 296.2 340C298.3 339.2 300.6 337.1 302.5 336.2C304.4 335.4 305.6 335.4 307.5 335C309.4 334.6 312.1 335 313.8 333.8C315.4 332.5 315.8 329.5 317.5 327.5C319.2 325.5 321.6 323.4 323.8 322C325.9 320.6 329.2 319.9 330.5 319C331.8 318.1 331.2 317.6 331.5 316.5C331.8 315.4 331.9 313.9 332.3 312.5C332.7 311.1 333.2 309.8 333.9 308.3C334.6 306.8 335.6 305.2 336.3 303.5C337.1 301.8 337.9 299.8 338.4 297.9C338.9 296 339.4 294.4 339.5 292.4C339.6 290.4 339.4 287.8 339.2 286C338.9 284.2 338.6 282.9 338 281.8C337.4 280.7 336.9 280.1 335.8 279.5C334.8 278.9 333.8 278.7 331.7 278.4C329.6 278.1 326.1 278.1 323.3 277.9C320.5 277.6 318.1 277.4 315 276.9C311.9 276.4 307.8 275.5 305 274.8C302.2 274.1 300.5 273.5 298.3 272.8C296.1 272.1 293.8 271.3 291.7 270.8C289.6 270.3 287.5 270 285.8 270C284.1 270 282.9 270.2 281.7 270.8C280.5 271.4 279.6 272.3 278.8 273.3C277.9 274.3 277.4 275.9 276.8 276.7C276.2 277.5 275.9 277.8 275 278.3C274.1 278.8 273.2 279.5 271.7 279.6C270.2 279.8 267.4 278.7 265.8 279.2Z"/>
<path d="M288.3 276.2C287.1 277.1 286.2 278.7 285.4 280C284.6 281.3 284.6 282.8 283.8 284.2C282.9 285.6 281.2 286.9 280 288.3C278.8 289.8 277.3 291.4 276.8 292.9C276.3 294.4 276.6 296 277.1 297.5C277.6 299 278.7 300.4 280 301.7C281.3 302.9 283.2 304 285 305C286.8 306 288.9 306.5 290.8 307.5C292.8 308.5 294.9 309.7 296.7 310.8C298.5 311.9 300 313.1 301.7 314.2C303.4 315.3 305 316.6 306.7 317.5C308.4 318.4 310 319.2 311.7 319.6C313.4 320 315.4 319.8 317 319.6C318.6 319.4 319.8 319.2 321 318.6C322.2 318.1 323.4 317.4 324.5 316.3C325.6 315.2 326.6 313.7 327.6 312C328.6 310.3 329.5 308.1 330.4 306.2C331.3 304.4 332.4 302.6 333.2 300.7C333.9 298.8 334.5 297.1 334.9 295.1C335.2 293.1 335.4 290.6 335.3 288.9C335.2 287.1 335 285.7 334.4 284.6C333.8 283.5 333.2 282.8 331.8 282.4C330.4 281.9 328 282.1 326 281.9C324 281.7 321.8 281.7 320 281.4C318.2 281.1 316.8 280.6 315 280.2C313.2 279.8 311.1 279.2 309.2 278.7C307.2 278.1 305.2 277.4 303.3 276.9C301.4 276.3 299.3 275.8 297.5 275.4C295.7 275 294 274.7 292.5 274.8C291 274.9 289.5 275.4 288.3 276.2Z"/>
<path d="M281.3 317.6 L283.2 316.4 L287.3 318 L283.3 321Z"/>
<path d="M300.8 281.2C299.4 281.5 298.5 281.9 297.5 282.9C296.5 283.9 295.4 285.9 294.6 287.5C293.8 289.1 293 291 292.5 292.5C292 294 291.4 295.3 291.7 296.7C292 298.1 292.8 299.7 294.2 300.8C295.6 301.9 297.9 302.5 300 303.3C302.1 304.1 304.2 304.8 306.7 305.8C309.2 306.8 313.2 308.7 315 309.5C316.8 310.3 316.6 310.6 317.5 310.6C318.4 310.7 319.6 310.2 320.5 309.8C321.4 309.4 322.3 308.9 323.1 308C323.9 307.1 324.8 305.6 325.2 304.2C325.6 302.8 325.7 300.7 325.6 299.3C325.6 297.9 324.9 297.1 324.9 295.8C324.9 294.5 325.5 292.9 325.7 291.7C325.9 290.5 326.4 289.5 326.2 288.8C325.9 288.1 325.2 288.1 324.2 287.6C323.2 287.2 321.5 286.7 320 286.1C318.5 285.6 316.7 284.9 315 284.3C313.3 283.7 311.5 283.1 310 282.7C308.5 282.2 307.5 281.8 306 281.6C304.5 281.4 302.2 281 300.8 281.2Z"/>
</g>
<g fill="none" stroke="#000" stroke-width="1" stroke-linejoin="round">
<path d="M536.5 381.7 L520 383.7 L503.3 386.7 L491.7 391.7 L478.3 397.2 L465 403 L458.3 408.3 L452.5 415 L450 422.5 L451.3 429.2 L451.7 432.5 L448.3 434.2 L444.2 434.2 L436.7 437 L427.5 440.8 L425.8 443 L428 444.7 L435 441.7 L441.7 439.7 L444.5 440.8 L444.7 448 L451.7 444.2 L458.3 440.8 L466.7 439.2 L468.7 436.7 L470 430.8 L473.3 428 L481.7 427 L488.3 425.3 L492.5 426.7 L497.5 424.7 L501.7 420.8 L508.3 415.8 L515 410 L521.7 405.8 L528.3 400.8 L536.5 400.8"/>
<path d="M536.5 455.2 L535.6 453.1 L533.8 448.9 L531 445.4 L528.5 441.5 L521.8 440.3 L516.5 439 L513 443.3 L511.6 446.1 L513 448.9 L515.1 452.4 L516.9 457 L515.1 458.8 L512.3 459.3 L509.2 458 L507 456.6 L509.2 460.9 L512.7 463.7 L517.6 465.2 L523.2 465 L529.6 462.3 L536.5 458.8"/>
<path d="M195.6 473.3 L210.8 470.2 L224.7 467.7 L235.8 466 L241.4 464.7 L243.5 461.9 L246.9 460.8 L253.9 458.8 L260.8 458 L267.1 458 L270.6 456.3 L276.1 457 L283.1 458.6 L288.3 459.8 L298 461.9 L306.4 464.4 L312.6 465.4 L316.1 462.6 L316.4 460.2 L313.3 459.1 L307.8 459.8"/>
<path d="M312 457.3 L316.8 456.3 L321.7 457.4 L325.8 459.8 L329.3 464 L333.5 466.8 L333.8 473.3"/>
<path d="M527.7 65.3C528.1 65.9 529.4 67.6 530.2 68.8C531 70 532 71.3 532.4 72.6C532.8 73.9 532.6 73.8 532.6 76.4C532.6 79 532.8 85.2 532.6 88.3C532.4 91.4 532.2 92.6 531.6 95C531 97.4 529.9 100 529 102.8C528.1 105.6 527.1 108.9 526.4 111.9C525.6 114.9 525 118.3 524.5 120.9C524 123.5 523.1 125.5 523.2 127.4C523.3 129.3 524.2 131.2 525.1 132.6C526 134 527.1 135.6 528.3 135.9C529.5 136.2 531.1 135.6 532.2 134.6C533.3 133.6 534.2 131.6 534.8 130C535.3 128.4 535.4 126 535.5 124.8C535.6 123.6 535.8 123.5 535.4 122.9C535 122.4 533.6 121.5 532.9 121.5C532.1 121.5 531.2 122.7 530.9 122.9"/>
<path d="M536.5 142.8 L532.9 145.6 L529.6 147.5 L532.9 152 L536.5 157.3"/>
</g>
</g>
<rect x="129.5" y="65.3" width="407" height="408" fill="none" stroke="#000" stroke-width="1"/>
<text x="333" y="58.5" font-size="12" text-anchor="middle">uvmet10</text>
<rect x="564.3" y="85.3" width="18.4" height="24.9" fill="#a40000"/>
<rect x="564.3" y="109.8" width="18.4" height="24.9" fill="#f10800"/>
<rect x="564.3" y="134.3" width="18.4" height="24.9" fill="#ff4700"/>
<rect x="564.3" y="158.8" width="18.4" height="24.9" fill="#ff8600"/>
<rect x="564.3" y="183.2" width="18.4" height="24.9" fill="#ffc400"/>
<rect x="564.3" y="207.7" width="18.4" height="24.9" fill="#ebff0c"/>
<rect x="564.3" y="232.2" width="18.4" height="24.9" fill="#b4ff43"/>
<rect x="564.3" y="256.7" width="18.4" height="24.9" fill="#7dff7a"/>
<rect x="564.3" y="281.2" width="18.4" height="24.9" fill="#43ffb4"/>
<rect x="564.3" y="305.7" width="18.4" height="24.9" fill="#0cf4eb"/>
<rect x="564.3" y="330.2" width="18.4" height="24.9" fill="#00b0ff"/>
<rect x="564.3" y="354.7" width="18.4" height="24.9" fill="#006cff"/>
<rect x="564.3" y="379.1" width="18.4" height="24.9" fill="#0028ff"/>
<rect x="564.3" y="403.6" width="18.4" height="24.9" fill="#0000f1"/>
<rect x="564.3" y="428.1" width="18.4" height="24.9" fill="#0000a4"/>
<path d="M564.3 85.7L573.5 67.1L582.7 85.7Z" fill="#800000"/>
<path d="M564.3 452.6L573.5 470.5L582.7 452.6Z" fill="#000080"/>
<path d="M564.3 85.5L573.5 67.1L582.7 85.5L582.7 452.8L573.5 470.5L564.3 452.8Z" fill="none" stroke="#000" stroke-width="0.9" stroke-linejoin="miter"/>
<g stroke="#000" stroke-width="0.8">
<line x1="582.7" y1="452.5" x2="587.3" y2="452.5"/>
<line x1="582.7" y1="403.5" x2="587.3" y2="403.5"/>
<line x1="582.7" y1="354.5" x2="587.3" y2="354.5"/>
<line x1="582.7" y1="305.5" x2="587.3" y2="305.5"/>
<line x1="582.7" y1="256.5" x2="587.3" y2="256.5"/>
<line x1="582.7" y1="207.5" x2="587.3" y2="207.5"/>
<line x1="582.7" y1="158.5" x2="587.3" y2="158.5"/>
<line x1="582.7" y1="109.5" x2="587.3" y2="109.5"/>
</g>
<g font-size="10">
<text x="589.9" y="456.3">−<tspan dx="-0.7">40</tspan></text>
<text x="589.9" y="407.3">−<tspan dx="-0.7">30</tspan></text>
<text x="589.9" y="358.3">−<tspan dx="-0.7">20</tspan></text>
<text x="589.9" y="309.3">−<tspan dx="-0.7">10</tspan></text>
<text x="589.9" y="260.3">0</text>
<text x="589.9" y="211.3">10</text>
<text x="589.9" y="162.3">20</text>
<text x="589.9" y="113.3">30</text>
</g>
</svg></body></html>
